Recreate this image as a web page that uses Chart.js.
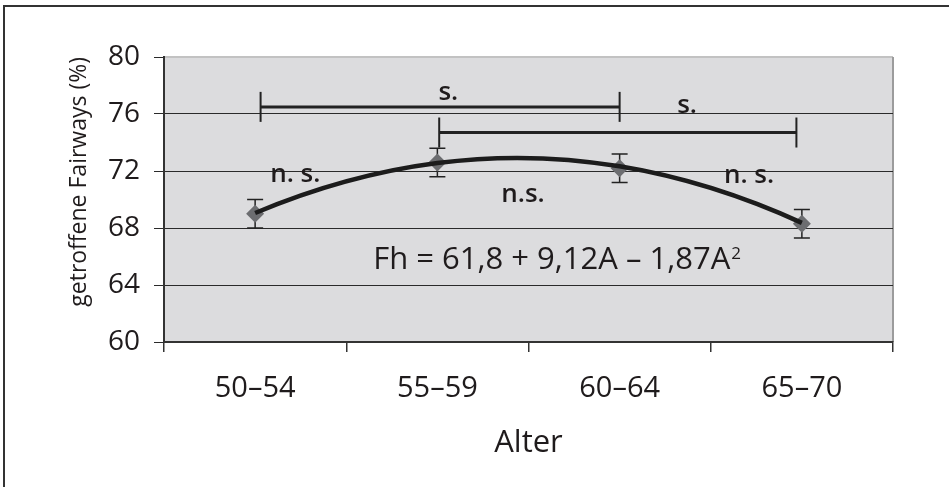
<!DOCTYPE html>
<html lang="de">
<head>
<meta charset="utf-8">
<title>Getroffene Fairways nach Alter</title>
<script src="https://cdn.jsdelivr.net/npm/chart.js@4.4.1/dist/chart.umd.min.js"></script>
<style>
  html, body { margin: 0; padding: 0; background: #fff; overflow: hidden; }
  .frame {
    position: absolute; left: 3px; top: 5px; width: 1000px; height: 600px;
    border-top: 2px solid #333; border-left: 2px solid #333;
  }
  #chart { position: absolute; left: 0; top: 0; width: 949px; height: 487px; }
</style>
</head>
<body>
<div class="frame"></div>
<canvas id="chart" width="949" height="487"></canvas>
<script>
'use strict';

const ageGroups = ['50–54', '55–59', '60–64', '65–70'];
const fairways = [69.0, 72.6, 72.2, 68.3];
const fairwayErrors = [1.0, 1.0, 1.0, 1.0];
const yTicks = [60, 64, 68, 72, 76, 80];
// Fh = c0 + c1*A + c2*A^2 with A = 1..4 (age group)
const trendCoef = [61.8, 9.12, -1.87];

// significance brackets, x in category units
const brackets = [
  { from: 0.03, to: 2.0, y: 76.5 },
  { from: 1.01, to: 2.97, y: 74.7 },
];
const sigNotes = [
  { text: 's.', x: 1.06, y: 77.0 },
  { text: 's.', x: 2.37, y: 76.1 },
  { text: 'n. s.', x: 0.22, y: 71.25 },
  { text: 'n.s.', x: 1.47, y: 69.85 },
  { text: 'n. s.', x: 2.71, y: 71.18 },
];
const equationAt = { x: 0.648, y: 65.12 };

const family = "'Open Sans', sans-serif";
const textColor = '#1f1b1c';

const trendFit = ageGroups.map((_, i) => {
  const a = i + 1;
  return trendCoef[0] + trendCoef[1] * a + trendCoef[2] * a * a;
});
const num = v => String(Math.abs(v)).replace('.', ',');
const equation = `Fh = ${num(trendCoef[0])} + ${num(trendCoef[1])}A – ${num(trendCoef[2])}A`;

// Plugins
const plotArea = {
  id: 'plotArea',
  beforeDraw(chart) {
    const { ctx, chartArea: a } = chart;
    ctx.save();
    ctx.fillStyle = '#dcdcde';
    ctx.fillRect(a.left, a.top, a.width, a.height);
    ctx.lineWidth = 2;
    ctx.strokeStyle = '#c2c2c2';
    ctx.beginPath();
    ctx.moveTo(a.left, a.top);
    ctx.lineTo(a.right, a.top);
    ctx.stroke();
    ctx.strokeStyle = '#9c9c9c';
    ctx.beginPath();
    ctx.moveTo(a.right, a.top);
    ctx.lineTo(a.right, a.bottom);
    ctx.stroke();
    ctx.restore();
  },
};

const errorBars = {
  id: 'errorBars',
  beforeDatasetsDraw(chart) {
    const { ctx, scales: { y } } = chart;
    const meta = chart.getDatasetMeta(1);
    ctx.save();
    ctx.strokeStyle = '#222';
    ctx.lineWidth = 1.5;
    meta.data.forEach((pt, i) => {
      const top = y.getPixelForValue(fairways[i] + fairwayErrors[i]);
      const bottom = y.getPixelForValue(fairways[i] - fairwayErrors[i]);
      ctx.beginPath();
      ctx.moveTo(pt.x, top);
      ctx.lineTo(pt.x, bottom);
      ctx.moveTo(pt.x - 8, top);
      ctx.lineTo(pt.x + 8, top);
      ctx.moveTo(pt.x - 8, bottom);
      ctx.lineTo(pt.x + 8, bottom);
      ctx.stroke();
    });
    ctx.restore();
  },
};

// give the trend curve the parabola's slope at both ends
const trendEnds = {
  id: 'trendEnds',
  beforeDatasetDraw(chart, args) {
    if (args.index !== 0) return;
    args.meta.dataset.updateControlPoints(chart.chartArea, 'x');
    const p = args.meta.data;
    const n = p.length - 1;
    const dx0 = p[1].x - p[0].x;
    const s0 = (-3 * p[0].y + 4 * p[1].y - p[2].y) / (2 * dx0);
    p[0].cp2x = p[0].x + dx0 / 3;
    p[0].cp2y = p[0].y + (s0 * dx0) / 3;
    const dx1 = p[n].x - p[n - 1].x;
    const s1 = (3 * p[n].y - 4 * p[n - 1].y + p[n - 2].y) / (2 * dx1);
    p[n].cp1x = p[n].x - dx1 / 3;
    p[n].cp1y = p[n].y - (s1 * dx1) / 3;
  },
};

const notes = {
  id: 'notes',
  afterDatasetsDraw(chart) {
    const { ctx, scales: { xs, y } } = chart;
    ctx.save();
    ctx.fillStyle = textColor;
    ctx.textBaseline = 'alphabetic';
    ctx.textAlign = 'center';
    ctx.font = `600 26px ${family}`;
    sigNotes.forEach(n =>
      ctx.fillText(n.text, xs.getPixelForValue(n.x), y.getPixelForValue(n.y))
    );

    ctx.textAlign = 'left';
    ctx.font = `500 31px ${family}`;
    const ex = xs.getPixelForValue(equationAt.x);
    const ey = y.getPixelForValue(equationAt.y);
    ctx.fillText(equation, ex, ey);
    const w = ctx.measureText(equation).width;
    ctx.font = `500 17px ${family}`;
    ctx.fillText('2', ex + w + 1, ey - 10);
    ctx.restore();
  },
};

new Chart(document.getElementById('chart'), {
  type: 'line',
  data: {
    labels: ageGroups,
    datasets: [
      {
        data: trendFit,
        borderColor: '#1c1c1c',
        borderWidth: 4.5,
        pointRadius: 0,
        tension: 0.33,
        order: 0,
      },
      {
        data: fairways,
        showLine: false,
        pointStyle: 'rectRot',
        pointRadius: 9,
        pointBackgroundColor: '#6c6d70',
        pointBorderColor: '#6c6d70',
        pointBorderWidth: 0,
        order: 1,
      },
      ...brackets.map(b => ({
        xAxisID: 'xs',
        data: [
          { x: b.from, y: b.y },
          { x: b.to, y: b.y },
        ],
        borderColor: '#222',
        borderWidth: 3,
        pointStyle: 'line',
        pointRotation: 90,
        pointRadius: 15,
        pointBorderWidth: 2,
        pointBorderColor: '#222',
        order: 2,
      })),
    ],
  },
  options: {
    responsive: false,
    animation: false,
    devicePixelRatio: 1,
    events: [],
    layout: { padding: { left: 0, top: 57, right: 56, bottom: 0 } },
    plugins: {
      legend: { display: false },
      tooltip: { enabled: false },
    },
    scales: {
      x: {
        offset: true,
        grid: {
          offset: true,
          drawOnChartArea: false,
          tickLength: 10,
          color: '#333',
          lineWidth: 1.5,
        },
        border: { color: '#333', width: 2 },
        ticks: {
          font: { family, size: 29, weight: 500 },
          color: textColor,
          padding: 19,
          maxRotation: 0,
        },
        title: {
          display: true,
          text: 'Alter',
          font: { family, size: 31, weight: 500 },
          color: textColor,
          padding: { top: 0, bottom: 25 },
        },
        afterFit(scale) {
          scale.height = 145;
        },
      },
      xs: { type: 'linear', display: false, min: -0.5, max: 3.5 },
      y: {
        min: 60,
        max: 80,
        afterBuildTicks(scale) {
          scale.ticks = yTicks.map(value => ({ value }));
        },
        grid: {
          color: ctx => (ctx.tick && ctx.tick.value === 80 ? 'rgba(0,0,0,0)' : '#2a2a2a'),
          lineWidth: 1,
          tickLength: 10,
          tickColor: '#2a2a2a',
        },
        border: { color: '#333', width: 2 },
        ticks: {
          font: { family, size: 28, weight: 500 },
          color: textColor,
          padding: 14,
        },
        title: {
          display: true,
          text: 'getroffene Fairways (%)',
          align: 'end',
          font: { family, size: 23, weight: 500 },
          color: textColor,
          padding: { top: 66, bottom: 0 },
        },
        afterFit(scale) {
          scale.width = 164;
        },
      },
    },
  },
  plugins: [plotArea, errorBars, trendEnds, notes],
});
</script>
</body>
</html>
